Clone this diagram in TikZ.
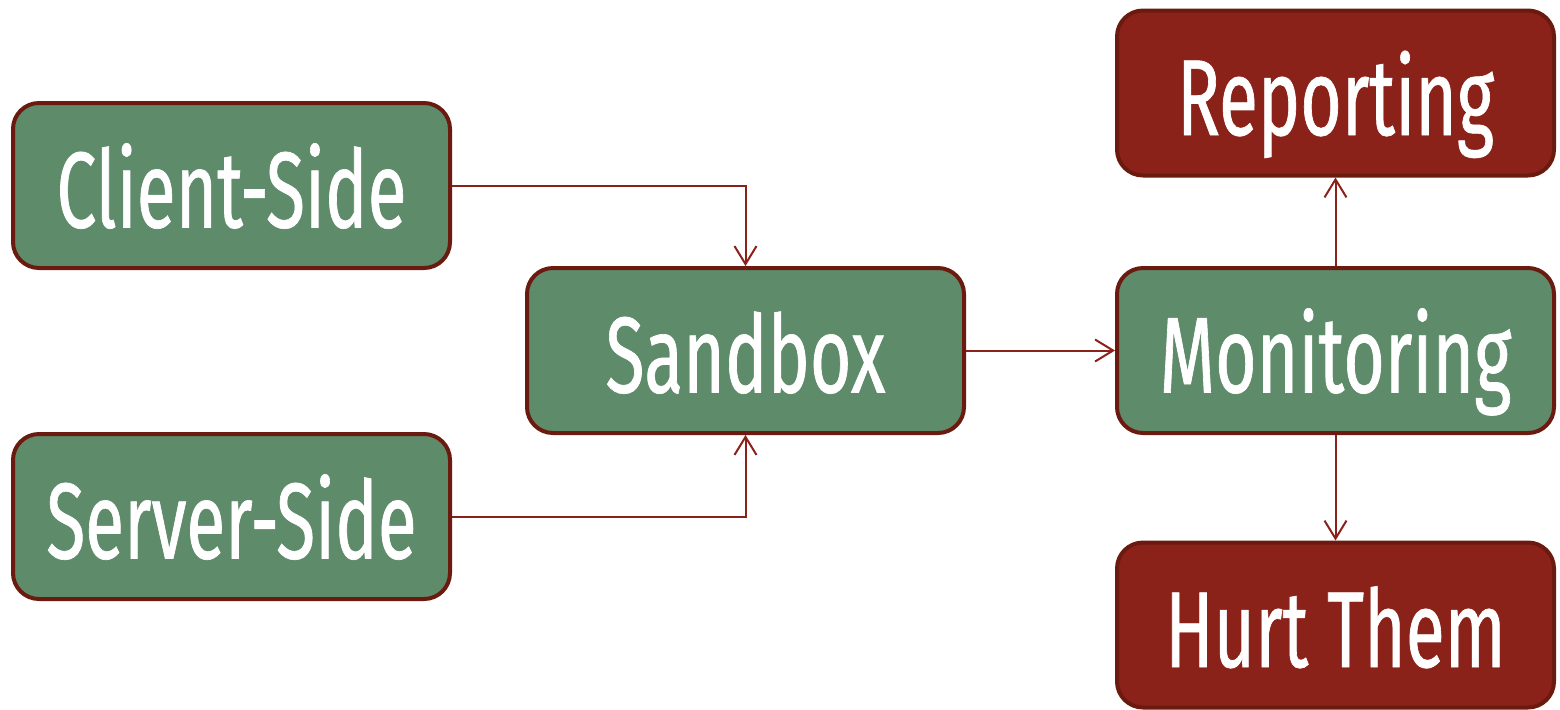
\documentclass[tikz,border=0pt]{standalone}
\usepackage{fontspec}
\setmainfont{Fira Sans}
\newfontfamily\boxfont[FakeStretch=0.66,FakeBold=0.6]{Fira Sans}
\usetikzlibrary{arrows.meta}
\definecolor{boxgreen}{HTML}{5E8B6A}
\definecolor{boxred}{HTML}{8B2219}
\definecolor{boxline}{HTML}{6B1A10}
\definecolor{arrowcol}{HTML}{8B2219}
\tikzset{
  flowbox/.style={draw=boxline, line width=2pt, rounded corners=13pt, fill=boxgreen,
    minimum width=218.5pt, minimum height=82.5pt, inner sep=0pt, text=white,
    text height=42pt, text depth=0pt,
    font=\boxfont\fontsize{54}{54}\selectfont},
  outbox/.style={flowbox, fill=boxred},
  conn/.style={draw=arrowcol, line width=1pt, -{Straight Barb[length=9pt,width=11pt,line width=1pt]}}
}
\begin{document}
\begin{tikzpicture}[x=0.5pt,y=-0.5pt]
\useasboundingbox (0,0) rectangle (1560,709);
\node[flowbox] (client) at (231.5,185.5) {Client-Side};
\node[flowbox] (server) at (231.5,516.5) {Server-Side};
\node[flowbox] (sandbox) at (745.5,350.5) {Sandbox};
\node[flowbox] (monitor) at (1335.5,350.5) {Monitoring};
\node[outbox] (report) at (1335.5,93) {Reporting};
\node[outbox] (hurt) at (1335.5,625) {Hurt Them};
\draw[conn] (client.east) -| (sandbox.north);
\draw[conn] (server.east) -| (sandbox.south);
\draw[conn] (sandbox.east) -- (monitor.west);
\draw[conn] (monitor.north) -- (report.south);
\draw[conn] (monitor.south) -- (hurt.north);
\end{tikzpicture}
\end{document}
